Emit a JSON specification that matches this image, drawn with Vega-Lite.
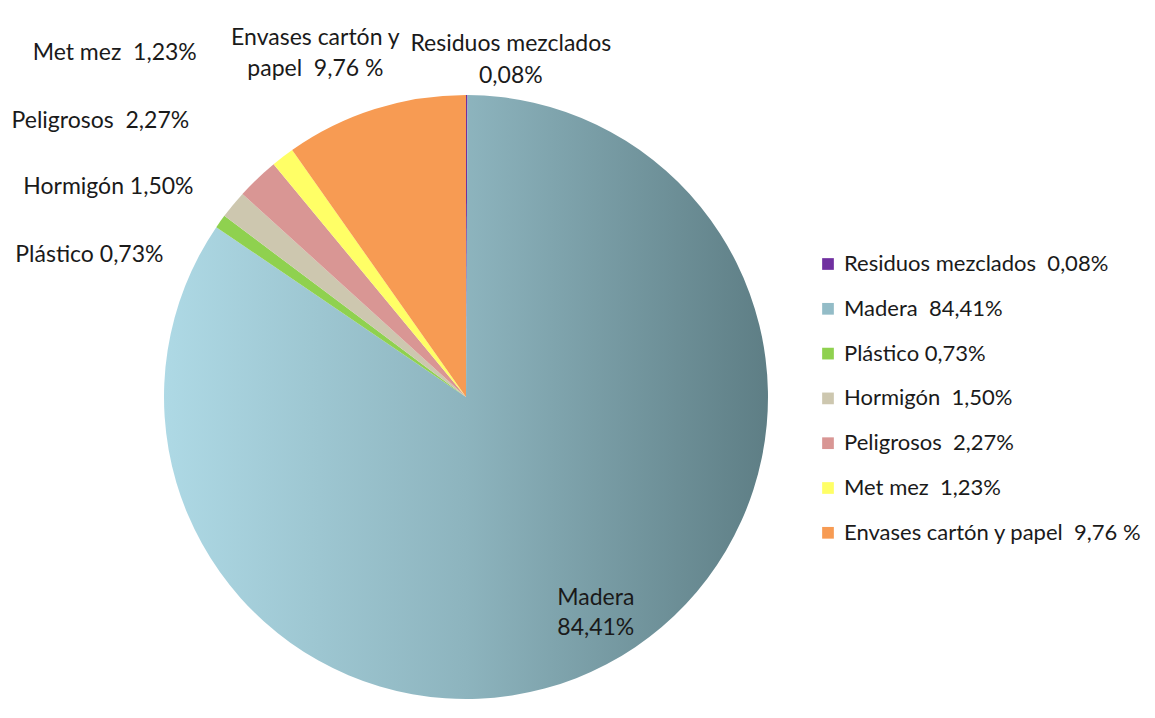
{
  "$schema": "https://vega.github.io/schema/vega-lite/v6.json",
  "width": 932,
  "height": 642,
  "autosize": {"type": "none"},
  "padding": {"left": 0, "top": 76, "right": 223, "bottom": 0},
  "background": "white",
  "config": {"view": {"stroke": null}, "font": "Lato", "text": {"font": "Lato"}},
  "data": {
    "values": [
      {"cat": "Residuos mezclados\u00a0 0,08%", "pie": "Residuos mezclados\n0,08%", "v": 0.08, "o": 1},
      {"cat": "Madera\u00a0 84,41%", "pie": "Madera\n84,41%", "v": 84.41, "o": 2},
      {"cat": "Plástico 0,73%", "pie": "Plástico 0,73%", "v": 0.73, "o": 3},
      {"cat": "Hormigón\u00a0 1,50%", "pie": "Hormigón 1,50%", "v": 1.50, "o": 4},
      {"cat": "Peligrosos\u00a0 2,27%", "pie": "Peligrosos\u00a0 2,27%", "v": 2.27, "o": 5},
      {"cat": "Met mez\u00a0 1,23%", "pie": "Met mez\u00a0 1,23%", "v": 1.23, "o": 6},
      {"cat": "Envases cartón y papel\u00a0 9,76 %", "pie": "Envases cartón y\npapel\u00a0 9,76 %", "v": 9.76, "o": 7}
    ]
  },
  "encoding": {
    "theta": {"field": "v", "type": "quantitative", "stack": true},
    "order": {"field": "o", "type": "quantitative"}
  },
  "layer": [
    {
      "mark": {"type": "arc", "radius": 302, "strokeWidth": 0},
      "encoding": {
        "color": {
          "condition": {
            "test": "datum.o === 2",
            "value": {
              "gradient": "linear", "x1": 0, "y1": 0, "x2": 1, "y2": 0,
              "stops": [
                {"offset": 0, "color": "#aed9e5"},
                {"offset": 0.5, "color": "#8db4be"},
                {"offset": 1, "color": "#5e7e85"}
              ]
            }
          },
          "field": "cat",
          "type": "nominal",
          "scale": {
            "domain": [
              "Residuos mezclados\u00a0 0,08%",
              "Madera\u00a0 84,41%",
              "Plástico 0,73%",
              "Hormigón\u00a0 1,50%",
              "Peligrosos\u00a0 2,27%",
              "Met mez\u00a0 1,23%",
              "Envases cartón y papel\u00a0 9,76 %"
            ],
            "range": ["#7030a0", "#93bcc7", "#8fd14f", "#cdc7af", "#d99694", "#ffff66", "#f79b53"]
          },
          "legend": {
            "title": null,
            "orient": "none",
            "legendX": 817,
            "legendY": 177,
            "padding": 0,
            "symbolType": "square",
            "symbolSize": 137,
            "symbolStrokeWidth": 0,
            "labelFont": "Lato",
            "labelFontSize": 22,
            "labelColor": "#1a1a1a",
            "labelOffset": 5,
            "labelLimit": 400,
            "rowPadding": 22.8
          }
        }
      }
    },
    {
      "mark": {"type": "text", "radius": 238, "dx": 19, "dy": -10, "fontSize": 23, "lineBreak": "\n", "lineHeight": 30, "align": "center", "baseline": "middle", "fill": "#1a1a1a"},
      "encoding": {"text": {"condition": {"test": "datum.o === 2", "field": "pie"}, "value": ""}}
    },
    {
      "mark": {"type": "text", "radius": 330, "dx": 44, "dy": -23, "fontSize": 23, "lineBreak": "\n", "lineHeight": 32, "align": "center", "baseline": "middle", "fill": "#1a1a1a"},
      "encoding": {"text": {"condition": {"test": "datum.o === 1", "field": "pie"}, "value": ""}}
    },
    {
      "mark": {"type": "text", "radius": 330, "dx": -34, "dy": 50, "fontSize": 23, "align": "right", "baseline": "middle", "fill": "#1a1a1a"},
      "encoding": {"text": {"condition": {"test": "datum.o === 3", "field": "pie"}, "value": ""}}
    },
    {
      "mark": {"type": "text", "radius": 330, "dx": -18, "dy": 0, "fontSize": 23, "align": "right", "baseline": "middle", "fill": "#1a1a1a"},
      "encoding": {"text": {"condition": {"test": "datum.o === 4", "field": "pie"}, "value": ""}}
    },
    {
      "mark": {"type": "text", "radius": 330, "dx": -49, "dy": -37, "fontSize": 23, "align": "right", "baseline": "middle", "fill": "#1a1a1a"},
      "encoding": {"text": {"condition": {"test": "datum.o === 5", "field": "pie"}, "value": ""}}
    },
    {
      "mark": {"type": "text", "radius": 330, "dx": -69, "dy": -82, "fontSize": 23, "align": "right", "baseline": "middle", "fill": "#1a1a1a"},
      "encoding": {"text": {"condition": {"test": "datum.o === 6", "field": "pie"}, "value": ""}}
    },
    {
      "mark": {"type": "text", "radius": 330, "dx": -51, "dy": -44, "fontSize": 23, "lineBreak": "\n", "lineHeight": 31, "align": "center", "baseline": "middle", "fill": "#1a1a1a"},
      "encoding": {"text": {"condition": {"test": "datum.o === 7", "field": "pie"}, "value": ""}}
    }
  ]
}
